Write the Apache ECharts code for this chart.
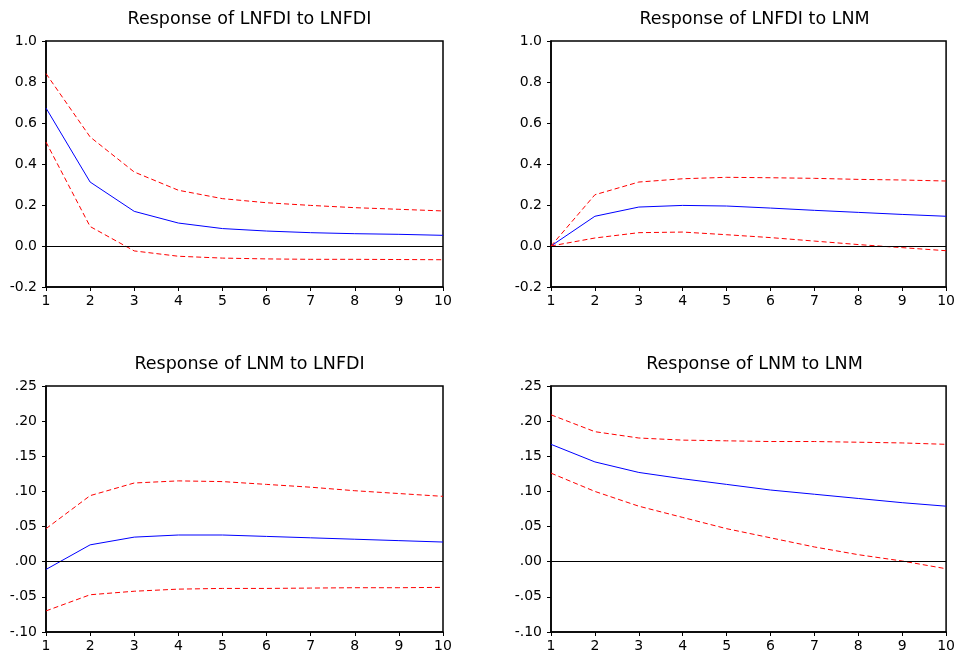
<!DOCTYPE html>
<html>
<head>
<meta charset="utf-8">
<script src="https://cdn.jsdelivr.net/npm/echarts@6/dist/echarts.min.js"></script>
<style>
  html, body { margin: 0; padding: 0; background: #fff; }
  #chart { width: 958px; height: 656px; }
</style>
</head>
<body>
<div id="chart"></div>
<script>
// periods
const periods = [1, 2, 3, 4, 5, 6, 7, 8, 9, 10];

const titles = [
    'Response of LNFDI to LNFDI',
    'Response of LNFDI to LNM',
    'Response of LNM to LNFDI',
    'Response of LNM to LNM'
];

// response of LNFDI to LNFDI
const fdiFdi = [0.673, 0.312, 0.169, 0.112, 0.085, 0.073, 0.065, 0.060, 0.057, 0.052];
const fdiFdiUp = [0.841, 0.532, 0.361, 0.272, 0.231, 0.211, 0.198, 0.187, 0.179, 0.171];
const fdiFdiLo = [0.507, 0.095, -0.024, -0.050, -0.059, -0.063, -0.065, -0.065, -0.066, -0.067];

// response of LNFDI to LNM
const fdiM = [0, 0.145, 0.190, 0.198, 0.195, 0.185, 0.174, 0.164, 0.154, 0.145];
const fdiMUp = [0, 0.250, 0.312, 0.328, 0.335, 0.333, 0.330, 0.325, 0.322, 0.317];
const fdiMLo = [0, 0.039, 0.065, 0.068, 0.055, 0.041, 0.024, 0.007, -0.008, -0.023];

// response of LNM to LNFDI
const mFdi = [-0.011, 0.024, 0.035, 0.038, 0.038, 0.036, 0.034, 0.032, 0.030, 0.028];
const mFdiUp = [0.047, 0.094, 0.112, 0.115, 0.114, 0.110, 0.106, 0.101, 0.097, 0.093];
const mFdiLo = [-0.070, -0.047, -0.042, -0.039, -0.038, -0.038, -0.0375, -0.037, -0.037, -0.0365];

// response of LNM to LNM
const mM = [0.167, 0.142, 0.127, 0.118, 0.110, 0.102, 0.096, 0.090, 0.084, 0.079];
const mMUp = [0.209, 0.185, 0.176, 0.173, 0.172, 0.171, 0.171, 0.170, 0.169, 0.167];
const mMLo = [0.126, 0.100, 0.079, 0.063, 0.047, 0.034, 0.021, 0.010, 0.001, -0.010];

const panels = [
    { resp: fdiFdi, up: fdiFdiUp, lo: fdiFdiLo, min: -0.2, max: 1.0, step: 0.2 },
    { resp: fdiM, up: fdiMUp, lo: fdiMLo, min: -0.2, max: 1.0, step: 0.2 },
    { resp: mFdi, up: mFdiUp, lo: mFdiLo, min: -0.1, max: 0.25, step: 0.05 },
    { resp: mM, up: mMUp, lo: mMLo, min: -0.1, max: 0.25, step: 0.05 }
];

const grids = [
    { left: 46, top: 41, width: 397, height: 246 },
    { left: 551, top: 41, width: 397, height: 246 },
    { left: 46, top: 386, width: 397, height: 246 },
    { left: 551, top: 386, width: 397, height: 246 }
];

const font = 'DejaVu Sans';

// 1.0 style for top panels, .25 / -.05 style for bottom ones
const fmtTop = v => v.toFixed(1);
const fmtBottom = v => {
    const s = Math.abs(v).toFixed(2).replace(/^0/, '');
    return (v < -1e-9 ? '-' : '') + s;
};

const pair = arr => arr.map((v, i) => [periods[i], v]);

const chart = echarts.init(document.getElementById('chart'));

const option = {
    animation: false,
    backgroundColor: '#fff',
    title: grids.map((g, i) => ({
        text: titles[i],
        left: g.left + g.width / 2,
        top: i < 2 ? 5 : 350,
        textAlign: 'center',
        textStyle: { fontFamily: font, fontSize: 17.5, fontWeight: 'normal', color: '#000' }
    })),
    grid: grids.map(g => ({
        ...g,
        show: true,
        borderColor: '#000',
        borderWidth: 1.5,
        backgroundColor: 'transparent'
    })),
    xAxis: grids.map((g, i) => ({
        type: 'value',
        gridIndex: i,
        min: 1,
        max: 10,
        interval: 1,
        axisLine: { onZero: false, lineStyle: { color: '#000', width: 1.5 } },
        axisTick: { show: true, length: 4, lineStyle: { color: '#000' } },
        axisLabel: { color: '#000', fontFamily: font, fontSize: 14, margin: 7 },
        splitLine: { show: false }
    })),
    yAxis: panels.map((p, i) => ({
        type: 'value',
        gridIndex: i,
        min: p.min,
        max: p.max,
        interval: p.step,
        axisLine: { show: true, onZero: false, lineStyle: { color: '#000', width: 1.5 } },
        axisTick: { show: true, length: 4, lineStyle: { color: '#000' } },
        axisLabel: {
            color: '#000',
            fontFamily: font,
            fontSize: 14,
            margin: 9,
            formatter: i < 2 ? fmtTop : fmtBottom
        },
        splitLine: { show: false }
    })),
    series: panels.flatMap((p, i) => [
        {
            type: 'line',
            xAxisIndex: i,
            yAxisIndex: i,
            data: pair(p.resp),
            symbol: 'none',
            lineStyle: { color: '#0000ff', width: 1 },
            z: 3,
            markLine: {
                silent: true,
                symbol: 'none',
                label: { show: false },
                lineStyle: { color: '#000', width: 1, type: 'solid' },
                data: [{ yAxis: 0 }]
            }
        },
        {
            type: 'line',
            xAxisIndex: i,
            yAxisIndex: i,
            data: pair(p.up),
            symbol: 'none',
            lineStyle: { color: '#ff0000', width: 1, type: [5, 3] }
        },
        {
            type: 'line',
            xAxisIndex: i,
            yAxisIndex: i,
            data: pair(p.lo),
            symbol: 'none',
            lineStyle: { color: '#ff0000', width: 1, type: [5, 3] }
        }
    ])
};

chart.setOption(option);
</script>
</body>
</html>
